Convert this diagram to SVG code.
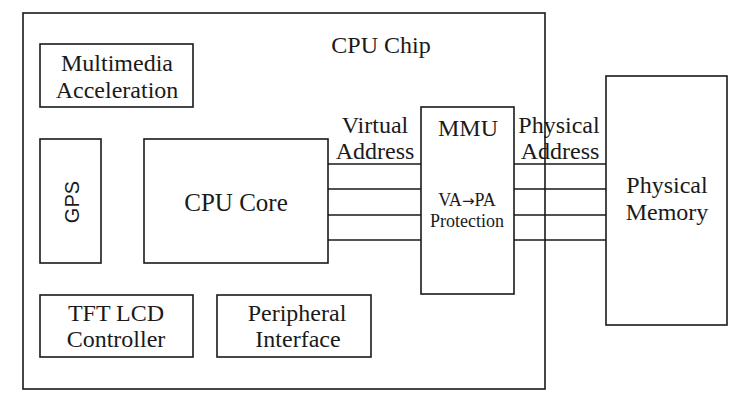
<svg xmlns="http://www.w3.org/2000/svg" width="740" height="416" viewBox="0 0 740 416">
<style>
.box{fill:none;stroke:#1a1a1a;stroke-width:1.6}
.t{font-family:"Liberation Serif","Times New Roman",serif;font-size:24px;fill:#1a1a1a;text-anchor:middle}
.s{font-size:18px}
.arr{font-family:"DejaVu Sans",sans-serif;font-size:15px}
.sans{font-family:"Liberation Sans",Arial,sans-serif;font-size:20px;fill:#1a1a1a;text-anchor:middle}
.wire{stroke:#1a1a1a;stroke-width:1.6;fill:none}
</style>
<rect width="740" height="416" fill="#ffffff"/>
<g id="cpu-chip">
<rect class="box" x="23" y="13" width="522" height="376"/>
<text class="t" x="381" y="53">CPU Chip</text>
</g>
<g id="multimedia">
<rect class="box" x="40" y="44" width="153" height="63"/>
<text class="t" x="117" y="71">Multimedia</text>
<text class="t" x="117" y="98">Acceleration</text>
</g>
<g id="gps">
<rect class="box" x="40" y="139" width="61" height="124"/>
<text class="sans" transform="translate(79,202) rotate(-90)">GPS</text>
</g>
<g id="cpu-core">
<rect class="box" x="144" y="139" width="184" height="124"/>
<text class="t" x="236" y="211" style="font-size:25px">CPU Core</text>
</g>
<g id="tft-lcd">
<rect class="box" x="40" y="295" width="153" height="62"/>
<text class="t" x="116" y="321">TFT LCD</text>
<text class="t" x="116" y="347">Controller</text>
</g>
<g id="peripheral">
<rect class="box" x="217" y="295" width="154" height="62"/>
<text class="t" x="297" y="321">Peripheral</text>
<text class="t" x="298" y="347">Interface</text>
</g>
<g id="mmu">
<rect class="box" x="421" y="107" width="93" height="187"/>
<text class="t" x="468" y="136">MMU</text>
<text class="t s" x="467" y="206">VA<tspan class="arr">→</tspan>PA</text>
<text class="t s" x="467" y="227">Protection</text>
</g>
<g id="physical-memory">
<rect class="box" x="606" y="76" width="121" height="249"/>
<text class="t" x="667" y="193">Physical</text>
<text class="t" x="667" y="220">Memory</text>
</g>
<g id="connectors">
<path class="wire" d="M328 164H421M328 189H421M328 215H421M328 240H421"/>
<path class="wire" d="M514 164H606M514 189H606M514 215H606M514 240H606"/>
<text class="t" x="375" y="133">Virtual</text>
<text class="t" x="375" y="159">Address</text>
<text class="t" x="559" y="133">Physical</text>
<text class="t" x="560" y="159">Address</text>
</g>
</svg>
